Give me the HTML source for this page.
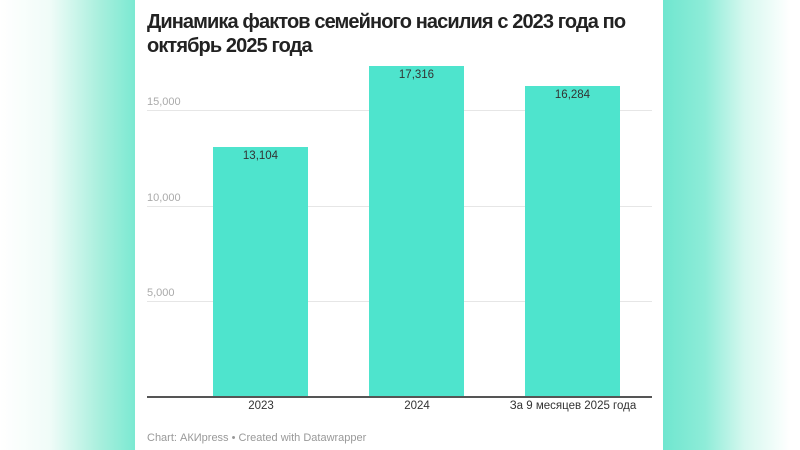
<!DOCTYPE html>
<html><head><meta charset="utf-8"><style>
*{margin:0;padding:0}
body{width:800px;height:450px;overflow:hidden;position:relative;font-family:"Liberation Sans",sans-serif;
background:linear-gradient(90deg,#fff 0px,#f0fcf8 50px,#a8efdd 100px,#7be9d2 135px,#fff 135px,#fff 663px,#6fe6cf 663px,#8eecd8 705px,#d6f8ef 745px,#fff 790px);}
.card{position:absolute;left:135px;top:0;width:528px;height:450px;background:#fff}
.t{position:absolute;left:147px;top:10px;font-size:20px;font-weight:bold;color:#222;line-height:24px;letter-spacing:-0.9px;width:510px}
.g{position:absolute;left:147px;width:505px;height:1px;background:#e6e6e6}
.yl{position:absolute;left:147px;font-size:11px;color:#aaa}
.b{position:absolute;background:#4ee4cd;width:95px;bottom:53px}
.v{position:absolute;width:95px;text-align:center;font-size:11.5px;color:#333}
.x{position:absolute;top:400px;font-size:11.5px;color:#333;text-align:center;width:160px}
</style></head><body>
<div class="card"></div>
<div class="t">Динамика фактов семейного насилия с 2023 года по октябрь 2025 года</div>
<div class="g" style="top:110px"></div><div class="yl" style="top:96px">15,000</div>
<div class="g" style="top:206px"></div><div class="yl" style="top:192px">10,000</div>
<div class="g" style="top:301px"></div><div class="yl" style="top:287px">5,000</div>
<div class="b" style="left:213px;top:147px"></div><div class="v" style="left:213px;top:150px">13,104</div>
<div class="b" style="left:369px;top:66px"></div><div class="v" style="left:369px;top:69px">17,316</div>
<div class="b" style="left:525px;top:86px"></div><div class="v" style="left:525px;top:89px">16,284</div>
<div style="position:absolute;left:147px;top:396px;width:505px;height:2px;background:#555"></div>
<div class="x" style="left:181px">2023</div>
<div class="x" style="left:337px">2024</div>
<div class="x" style="left:493px">За 9 месяцев 2025 года</div>
<div style="position:absolute;left:147px;top:432px;font-size:11px;color:#999">Chart: АКИpress • Created with Datawrapper</div>
</body></html>
